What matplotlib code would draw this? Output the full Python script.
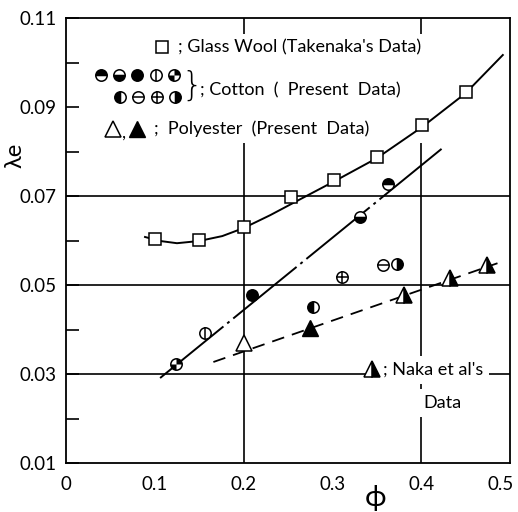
import numpy as np
import matplotlib
matplotlib.use("Agg")
import matplotlib.pyplot as plt
import matplotlib.transforms as mtrans
from matplotlib.path import Path
from matplotlib.markers import MarkerStyle
from matplotlib.patches import Rectangle

plt.rcParams['font.family'] = ['Lato', 'DejaVu Sans']

# glass wool (Takenaka's data)
glass_phi = [0.100, 0.150, 0.200, 0.253, 0.302, 0.350, 0.401, 0.450]
glass_lam = [0.0603, 0.0601, 0.0630, 0.0698, 0.0736, 0.0788, 0.0860, 0.0934]

# smooth curve drawn through the glass wool data
glass_curve_phi = [0.089, 0.106, 0.125, 0.150, 0.176, 0.200, 0.230, 0.264,
                   0.303, 0.350, 0.401, 0.450, 0.492]
glass_curve_lam = [0.0608, 0.0599, 0.0594, 0.0599, 0.0610, 0.0628, 0.0657,
                   0.0693, 0.0734, 0.0785, 0.0855, 0.0931, 0.1017]

# cotton (present data), each point has its own symbol
cotton_phi = [0.124, 0.157, 0.210, 0.278, 0.311, 0.357, 0.373, 0.331, 0.363]
cotton_lam = [0.0322, 0.0392, 0.0478, 0.0451, 0.0518, 0.0545, 0.0547, 0.0653, 0.0727]
cotton_kind = ['quad', 'vline', 'full', 'left', 'plus', 'hline', 'right', 'bottom', 'top']
cotton_line_phi = [0.106, 0.423]
cotton_line_lam = [0.0291, 0.0806]

# polyester (present data)
poly_open_phi = [0.200]
poly_open_lam = [0.0370]
poly_fill_phi = [0.275]
poly_fill_lam = [0.0403]
# Naka et al's data
naka_phi = [0.381, 0.432, 0.474]
naka_lam = [0.0478, 0.0516, 0.0545]
poly_line_phi = [0.166, 0.486]
poly_line_lam = [0.0327, 0.0549]

# legend symbol order for cotton
legend_row1 = ['top', 'bottom', 'full', 'vline', 'quad']
legend_row2 = ['left', 'hline', 'plus', 'right']

xticks = [0, 0.1, 0.2, 0.3, 0.4, 0.5]
xlabels = ['0', '0.1', '0.2', '0.3', '0.4', '0.5']
yticks = [0.01, 0.03, 0.05, 0.07, 0.09, 0.11]
ylabels = ['0.01', '0.03', '0.05', '0.07', '0.09', '0.11']
grid_x = [0.2, 0.4]
grid_y = [0.03, 0.05, 0.07]

MS = 8.2
FS = 13
quad_path = Path.make_compound_path(Path.wedge(0, 90), Path.wedge(180, 270))


def draw_circle(ax, x, y, kind, **kw):
    base = dict(ms=MS, mec='black', mew=1.1, ls='none')
    base.update(kw)
    if kind == 'full':
        ax.plot(x, y, 'o', color='black', zorder=5, **base)
    elif kind in ('top', 'bottom', 'left', 'right'):
        ax.plot(x, y, 'o', mfc='black', fillstyle=kind, markerfacecoloralt='white',
                zorder=5, **base)
    else:
        ax.plot(x, y, 'o', mfc='white', zorder=5, **base)
        if kind == 'vline':
            ax.plot(x, y, '|', color='black', zorder=6, **base)
        elif kind == 'hline':
            ax.plot(x, y, '_', color='black', zorder=6, **base)
        elif kind == 'plus':
            ax.plot(x, y, '+', color='black', zorder=6, **base)
        elif kind == 'quad':
            b = dict(base)
            b['mew'] = 0
            ax.plot(x, y, marker=MarkerStyle(quad_path), color='black', zorder=6, **b)


fig = plt.figure(figsize=(5.18, 5.12), dpi=100)
ax = fig.add_axes([0.1274, 0.0957, 0.857, 0.869])
ax.set_xlim(0, 0.5)
ax.set_ylim(0.01, 0.11)

for s in ax.spines.values():
    s.set_linewidth(1.3)

for gx in grid_x:
    ax.axvline(gx, color='black', lw=1.2, zorder=0.5)
for gy in grid_y:
    ax.axhline(gy, color='black', lw=1.2, zorder=0.5)

ax.set_xticks(xticks)
ax.set_xticklabels(xlabels)
ax.set_yticks(yticks)
ax.set_yticklabels(ylabels)
ax.set_xticks([0.1, 0.3], minor=True)
ax.set_yticks(np.arange(0.02, 0.105, 0.02), minor=True)
ax.tick_params(which='both', direction='in', length=9, width=1.2, labelsize=13.5,
               top=False, right=False)
ax.tick_params(axis='x', which='major', length=0, pad=9)
ax.tick_params(axis='y', which='major', pad=7)
# keep the last x label inside the figure
last = ax.get_xticklabels()[-1]
last.set_transform(last.get_transform() +
                   mtrans.ScaledTranslation(-7 / 72, 0, fig.dpi_scale_trans))

# white block behind legend text
ax.add_patch(Rectangle((0.05, 0.72), 0.77, 0.245, transform=ax.transAxes,
                       facecolor='white', edgecolor='none', zorder=1))

# curves
ax.plot(glass_curve_phi, glass_curve_lam, color='black', lw=1.4, zorder=2)
ax.plot(cotton_line_phi, cotton_line_lam, color='black', lw=1.4, zorder=2,
        linestyle=(0, (42, 2.5, 1.5, 2.5)))
ax.plot(poly_line_phi, poly_line_lam, color='black', lw=1.3, zorder=2,
        linestyle=(0, (7, 4.5)))

# data points
ax.plot(glass_phi, glass_lam, 's', ms=8, mfc='white', mec='black', mew=1.1, zorder=5)
for x, y, k in zip(cotton_phi, cotton_lam, cotton_kind):
    draw_circle(ax, x, y, k)
ax.plot(poly_open_phi, poly_open_lam, '^', ms=11, mfc='white', mec='black', mew=1.1, zorder=5)
ax.plot(poly_fill_phi, poly_fill_lam, '^', ms=11, color='black', zorder=5)
ax.plot(naka_phi, naka_lam, '^', ms=11, mfc='black', fillstyle='right',
        markerfacecoloralt='white', mec='black', mew=1.1, zorder=5)

# legend
T = ax.transAxes
ax.plot(0.216, 0.935, 's', ms=8.5, mfc='white', mec='black', mew=1.1, transform=T, zorder=5)
ax.text(0.252, 0.935, "; Glass Wool (Takenaka's Data)", transform=T, fontsize=FS,
        va='center', ha='left', zorder=4)
for x, k in zip([0.079, 0.119, 0.160, 0.203, 0.243], legend_row1):
    draw_circle(ax, x, 0.872, k, transform=T)
for x, k in zip([0.122, 0.162, 0.205, 0.245], legend_row2):
    draw_circle(ax, x, 0.822, k, transform=T)
ax.text(0.260, 0.846, "}", transform=T, fontsize=24, va='center', ha='left',
        family=['DejaVu Sans'], fontweight='light', zorder=4)
ax.text(0.302, 0.838, "; Cotton  (  Present  Data)", transform=T, fontsize=FS,
        va='center', ha='left', zorder=4)
ax.plot(0.106, 0.751, '^', ms=11, mfc='white', mec='black', mew=1.1, transform=T, zorder=5)
ax.text(0.126, 0.742, ",", transform=T, fontsize=FS, va='center', ha='left', zorder=4)
ax.plot(0.160, 0.751, '^', ms=11, color='black', transform=T, zorder=5)
ax.text(0.198, 0.751, ";  Polyester  (Present  Data)", transform=T, fontsize=FS,
        va='center', ha='left', zorder=4)

ax.text(0.715, 0.209, "; Naka et al's", transform=T, fontsize=FS, va='center',
        ha='left', zorder=4,
        bbox=dict(facecolor='white', edgecolor='none', pad=4))
ax.plot(0.689, 0.212, '^', ms=11, mfc='black', fillstyle='right',
        markerfacecoloralt='white', mec='black', mew=1.1, transform=T, zorder=5)
ax.text(0.804, 0.135, "Data", transform=T, fontsize=FS, va='center', ha='left',
        zorder=4, bbox=dict(facecolor='white', edgecolor='none', pad=4))

# axis labels
ax.text(-0.115, 0.692, "λe", transform=T, fontsize=17, rotation=90, va='center',
        ha='center')
ax.text(0.698, -0.079, "ϕ", transform=T, fontsize=21, va='center', ha='center')

fig.savefig("out.png", dpi=100)
